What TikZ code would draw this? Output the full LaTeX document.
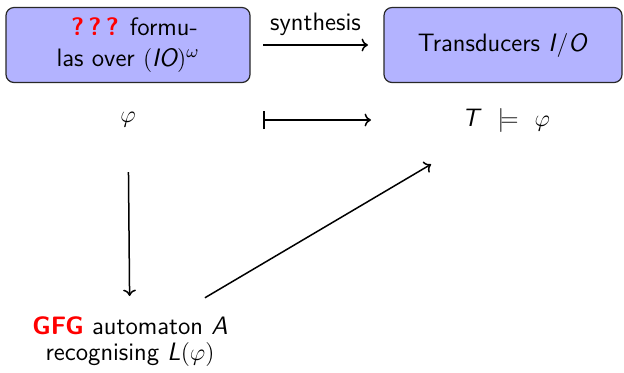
\documentclass[tikz,border=0pt]{standalone}
\usepackage{fontspec}
\renewcommand{\familydefault}{\sfdefault}
\usetikzlibrary{arrows.meta}
\definecolor{boxfill}{RGB}{179,179,255}
\definecolor{boxline}{RGB}{40,40,40}
\begin{document}
\begin{tikzpicture}[x=0.5pt,y=-0.5pt,
  every node/.style={font=\fontsize{12.6}{14.5}\selectfont},
  roundbox/.style={draw=boxline,fill=boxfill,rounded corners=4pt,line width=0.6pt,
    minimum width=122pt,minimum height=37.5pt,align=center,inner sep=2pt},
  plain/.style={align=center,inner sep=0pt},
  tip/.style={-{To[length=3.2pt,width=6.4pt]}},
  link/.style={line width=0.75pt,shorten <=67.5pt,shorten >=67.5pt}]
  \useasboundingbox (0,0) rectangle (624,372);

  % top row: specification formulas and the synthesised transducers
  \node[roundbox,font=\fontsize{12.6}{15.2}\selectfont] (spec) at (128,45)
    {\hspace*{6.5pt}{\color{red}\bfseries ?\,?\,?} formu-\\las over $(\textit{IO})^{\omega}$};
  \node[roundbox,minimum width=119pt] (trans) at (503,45) {Transducers \textit{I}$/$\textit{O}};

  % middle row: a formula and a transducer satisfying it
  \node[plain] (phi) at (128,120) {$\varphi$};
  \node[plain] (sat) at (506,120) {\textit{T}\hspace{8pt}$\models$\hspace{8pt}$\varphi$};

  % bottom: the automaton built from the formula
  \node[plain,font=\fontsize{12.6}{13}\selectfont] (gfg) at (130,342)
    {{\color{red}\bfseries GFG} automaton \textit{A}\\recognising \textit{L}$(\varphi)$};

  % arrows
  \draw[link,tip] (spec.center) -- node[above=4.5pt,inner sep=0pt] {synthesis} (trans.center);
  \draw[link,{Bar[width=9pt]}-{To[length=3.2pt,width=6.4pt]}] (phi.center) -- (sat.center);
  \draw[line width=0.75pt,tip,shorten <=26pt,shorten >=23pt] (phi.center) -- (gfg.center);
  \draw[line width=0.75pt,tip,shorten <=43.5pt,shorten >=43.5pt] (gfg.center) -- (sat.center);
\end{tikzpicture}
\end{document}
